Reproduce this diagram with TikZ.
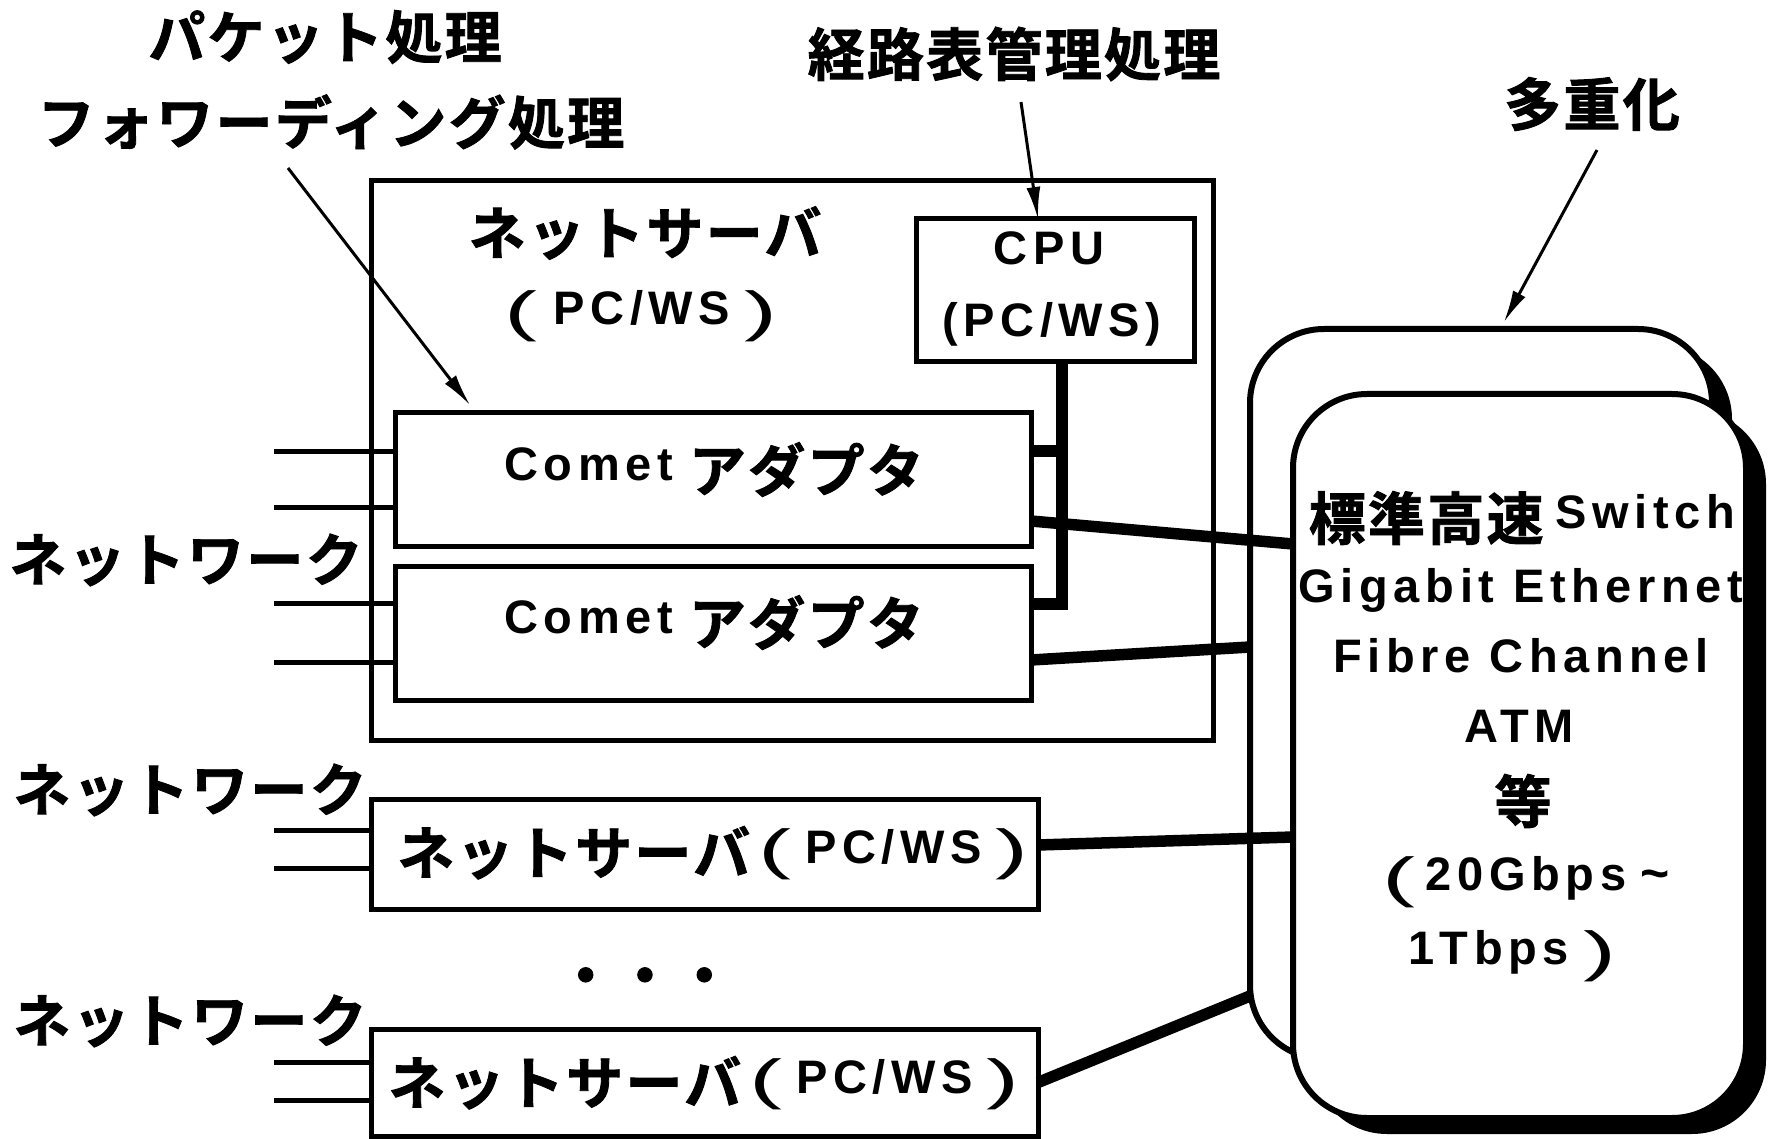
\documentclass[tikz,border=0pt]{standalone}
\usepackage{fontspec}
\newfontfamily\latf{Liberation Sans}[LetterSpace=12]
\newfontfamily\parf{Liberation Sans}
\newfontfamily\jpf{Noto Sans CJK JP}[LetterSpace=4, BoldFont=* Bold, BoldFeatures={FakeBold=1.5}]
\usetikzlibrary{arrows.meta,shadows}

% Japanese text, Latin text raised onto the kana line, plain Latin text
\newcommand\jtxt[1]{{\jpf\bfseries\fontsize{28.5pt}{34pt}\selectfont #1}}
\newcommand\ltxt[1]{\raisebox{5.5pt}{\latf\bfseries\fontsize{23.5pt}{28pt}\selectfont #1}}
\newcommand\lraw[1]{{\latf\bfseries\fontsize{23.5pt}{28pt}\selectfont #1}}
\newcommand\tld{\raisebox{5.5pt}{\latf\bfseries\fontsize{25pt}{28pt}\selectfont\symbol{"7E}}}
% tall, wide brackets around raised Latin text
\newcommand\lpar{\raisebox{2.75pt}{\scalebox{1.8}[1]{\parf\fontsize{27.5pt}{30pt}\selectfont(}}}
\newcommand\rpar{\raisebox{2.75pt}{\scalebox{1.8}[1]{\parf\fontsize{27.5pt}{30pt}\selectfont)}}}

\begin{document}
\begin{tikzpicture}[x=0.5pt,y=-0.5pt,
  box/.style={draw, line width=2.5pt, inner sep=0pt, outer sep=0pt},
  txt/.style={inner sep=0pt, outer sep=0pt},
  netln/.style={line width=2.5pt},
  linkln/.style={line width=5.75pt},
  note/.style={line width=1.5pt, -{Latex[length=16pt,width=7pt]}},
  switchbox/.style={draw, line width=3pt, fill=white, inner sep=0pt, outer sep=0pt,
    rounded corners=37pt,
    drop shadow={shadow xshift=10pt, shadow yshift=-8pt, fill=black, opacity=1}}]
\useasboundingbox (0,0) rectangle (1769,1139);

% ---- labels at the top ----
\node[txt] (lpkt) at (325,37) {\jtxt{パケット処理}};
\node[txt] (lfwd) at (331,122) {\jtxt{フォワーディング処理}};
\node[txt] (lrt) at (1014,54) {\jtxt{経路表管理処理}};
\node[txt] (lmux) at (1592,104) {\jtxt{多重化}};

% ---- net server with CPU and two Comet adapters ----
\node[box, minimum width=421pt, minimum height=279.5pt] (srv) at (792,460.5) {};
\node[txt] (srvt1) at (645,233) {\jtxt{ネットサーバ}};
\node[txt] (srvt2) at (641,316) {\lpar\hspace{8pt}\ltxt{PC/WS}\hspace{7pt}\rpar};

\node[box, fill=white, minimum width=139pt, minimum height=71.5pt] (cpu) at (1055,290.5) {};
\node[txt, anchor=base] (cput1) at (1049,265) {\lraw{CPU}};
\node[txt, anchor=base] (cput2) at (1052,337) {\lraw{(PC/WS)}};

\node[box, fill=white, minimum width=318pt, minimum height=66.5pt] (ad1) at (713,479.5) {};
\node[txt] (ad1t) at (714,469.5) {\ltxt{Comet}\hspace{8pt}\jtxt{アダプタ}};
\node[box, fill=white, minimum width=318pt, minimum height=67pt] (ad2) at (713,633) {};
\node[txt] (ad2t) at (714,622.5) {\ltxt{Comet}\hspace{8pt}\jtxt{アダプタ}};

% CPU bus to both adapters
\draw[linkln] ([xshift=3.5pt]cpu.south) |- ([yshift=14.5pt]ad2.east);
\draw[linkln] ([yshift=14.25pt]ad1.east) -- ++(31,0);

% ---- further net servers ----
\node[box, minimum width=333.5pt, minimum height=55pt] (sv2) at (704.5,854) {};
\node[txt] (sv2t) at (713,853) {\jtxt{ネットサーバ}\hspace{4pt}\lpar\hspace{7pt}\ltxt{PC/WS}\hspace{7pt}\rpar};
\node[box, minimum width=333.5pt, minimum height=53.5pt] (sv3) at (704.5,1082.5) {};
\node[txt] (sv3t) at (704,1083) {\jtxt{ネットサーバ}\hspace{4pt}\lpar\hspace{7pt}\ltxt{PC/WS}\hspace{7pt}\rpar};
\node[txt] (dots) at (645,982) {\jtxt{・・・}};

% ---- network labels and lines ----
\node[txt] (nw1) at (186,560) {\jtxt{ネットワーク}};
\node[txt] (nw2) at (190,790) {\jtxt{ネットワーク}};
\node[txt] (nw3) at (190,1021) {\jtxt{ネットワーク}};
\draw[netln] ([yshift=13.75pt]ad1.west) -- ++(-121,0);
\draw[netln] ([yshift=-14.25pt]ad1.west) -- ++(-121,0);
\draw[netln] ([yshift=15pt]ad2.west) -- ++(-121,0);
\draw[netln] ([yshift=-14.5pt]ad2.west) -- ++(-121,0);
\draw[netln] ([yshift=12pt]sv2.west) -- ++(-97,0);
\draw[netln] ([yshift=-7pt]sv2.west) -- ++(-97,0);
\draw[netln] ([yshift=10.25pt]sv3.west) -- ++(-97,0);
\draw[netln] ([yshift=-8.75pt]sv3.west) -- ++(-97,0);

% ---- multiplexed standard high-speed switch ----
\node[switchbox, minimum width=231pt, minimum height=365pt] (swb) at (1481,694) {};
\node[switchbox, minimum width=226.5pt, minimum height=362pt] (swf) at (1519.5,756) {};

% links from the servers into the switch planes
\draw[linkln] ([yshift=-20.75pt]ad1.east) -- ([yshift=106pt]swf.west);
\draw[linkln] ([yshift=-13.5pt]ad2.east) -- ([yshift=23.5pt]swb.west);
\draw[linkln] ([yshift=4.5pt]sv2.east) -- ([yshift=-40.5pt]swf.west);
\draw[linkln] (sv3.east) -- ([yshift=-151pt]swb.west);

\node[txt] (sw1) at (1522,518) {\jtxt{標準高速}\hspace{6pt}\ltxt{Switch}};
\node[txt, anchor=base] (sw2) at (1521,602) {\lraw{Gigabit Ethernet}};
\node[txt, anchor=base] (sw3) at (1521,672) {\lraw{Fibre Channel}};
\node[txt, anchor=base] (sw4) at (1519,742) {\lraw{ATM}};
\node[txt] (sw5) at (1523,801) {\jtxt{等}};
\node[txt] (sw6) at (1526,882) {\lpar\hspace{5pt}\ltxt{20Gbps}\hspace{7pt}\tld};
\node[txt] (sw7) at (1512,956) {\ltxt{1Tbps}\hspace{7pt}\rpar};

% ---- annotation arrows ----
\coordinate (a1s) at (288,168);
\coordinate (a1e) at (470,405);
\coordinate (a2s) at (1021,102);
\coordinate (a3s) at (1597,150);
\coordinate (a3e) at (1504,322);
\draw[note] (a1s) -- (a1e);
\draw[note] (a2s) -- ([xshift=-8.5pt]cpu.north);
\draw[note] (a3s) -- (a3e);
\end{tikzpicture}
\end{document}
